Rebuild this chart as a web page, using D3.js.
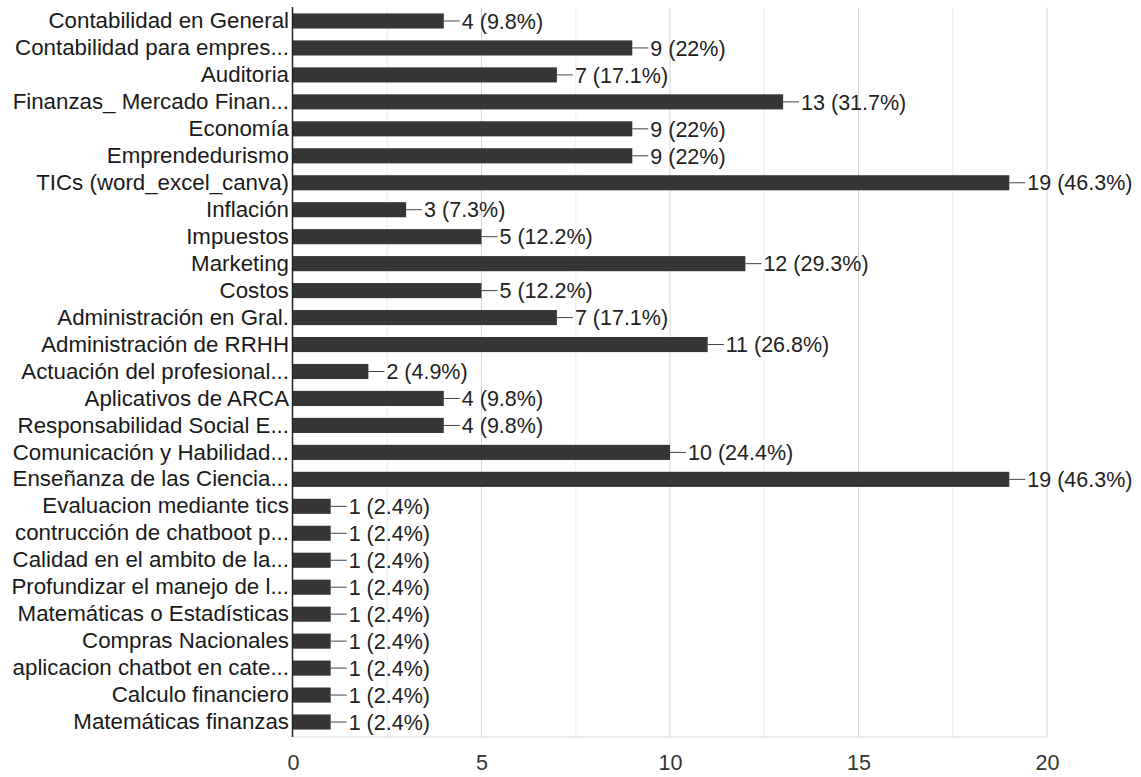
<!DOCTYPE html>
<html>
<head>
<meta charset="utf-8">
<script src="https://cdn.jsdelivr.net/npm/d3@7"></script>
<style>
  html, body { margin: 0; padding: 0; background: #fff; }
  svg { display: block; font-family: "Liberation Sans", Arial, sans-serif; }
</style>
</head>
<body>
<svg id="chart" width="1141" height="777"></svg>
<script>
const categories = [
  "Contabilidad en General",
  "Contabilidad para empres...",
  "Auditoria",
  "Finanzas_ Mercado Finan...",
  "Economía",
  "Emprendedurismo",
  "TICs (word_excel_canva)",
  "Inflación",
  "Impuestos",
  "Marketing",
  "Costos",
  "Administración en Gral.",
  "Administración de RRHH",
  "Actuación del profesional...",
  "Aplicativos de ARCA",
  "Responsabilidad Social E...",
  "Comunicación y Habilidad...",
  "Enseñanza de las Ciencia...",
  "Evaluacion mediante tics",
  "contrucción de chatboot p...",
  "Calidad en el ambito de la...",
  "Profundizar el manejo de l...",
  "Matemáticas o Estadísticas",
  "Compras Nacionales",
  "aplicacion chatbot en cate...",
  "Calculo financiero",
  "Matemáticas finanzas"
];
const counts = [4, 9, 7, 13, 9, 9, 19, 3, 5, 12, 5, 7, 11, 2, 4, 4, 10, 19, 1, 1, 1, 1, 1, 1, 1, 1, 1];
const percents = ["9.8%", "22%", "17.1%", "31.7%", "22%", "22%", "46.3%", "7.3%", "12.2%", "29.3%", "12.2%", "17.1%", "26.8%", "4.9%", "9.8%", "9.8%", "24.4%", "46.3%", "2.4%", "2.4%", "2.4%", "2.4%", "2.4%", "2.4%", "2.4%", "2.4%", "2.4%"];
const majorTicks = [0, 5, 10, 15, 20];
const minorTicks = [2.5, 7.5, 12.5, 17.5];

(function () {
const data = categories.map((c, i) => ({ cat: c, n: counts[i], pct: percents[i] }));

const svg = d3.select("#chart");
const x = d3.scaleLinear().domain([0, 20]).range([293, 1047]);
const y = d3.scaleBand().domain(categories).range([7.5, 735.5]).paddingInner(0.44).paddingOuter(0.22);

const plotTop = 7, plotBottom = 737;

svg.append("g").selectAll("line").data(minorTicks).join("line")
  .attr("x1", d => x(d)).attr("x2", d => x(d))
  .attr("y1", plotTop).attr("y2", plotBottom)
  .attr("stroke", "#ececec").attr("stroke-width", 1);

svg.append("g").selectAll("line").data(majorTicks.slice(1)).join("line")
  .attr("x1", d => x(d)).attr("x2", d => x(d))
  .attr("y1", plotTop).attr("y2", plotBottom)
  .attr("stroke", "#d6d6d6").attr("stroke-width", 1);

svg.append("line")
  .attr("x1", x(0)).attr("x2", x(20))
  .attr("y1", plotBottom).attr("y2", plotBottom)
  .attr("stroke", "#d6d6d6");

svg.append("g").selectAll("rect").data(data).join("rect")
  .attr("x", x(0))
  .attr("y", d => y(d.cat))
  .attr("width", d => x(d.n) - x(0))
  .attr("height", y.bandwidth())
  .attr("fill", "#363636");

svg.append("line")
  .attr("x1", x(0) - 0.5).attr("x2", x(0) - 0.5)
  .attr("y1", plotTop).attr("y2", plotBottom)
  .attr("stroke", "#222").attr("stroke-width", 1.5);

const vl = svg.append("g");
vl.selectAll("line").data(data).join("line")
  .attr("x1", d => x(d.n)).attr("x2", d => x(d.n) + 16)
  .attr("y1", d => y(d.cat) + y.bandwidth() / 2)
  .attr("y2", d => y(d.cat) + y.bandwidth() / 2)
  .attr("stroke", "#444").attr("stroke-width", 1);
vl.selectAll("text").data(data).join("text")
  .attr("x", d => x(d.n) + 18)
  .attr("y", d => y(d.cat) + y.bandwidth() / 2)
  .attr("dy", "0.36em")
  .attr("font-size", 21.5)
  .attr("fill", "#222")
  .text(d => `${d.n} (${d.pct})`);

const yAxis = d3.axisLeft(y).tickSize(0).tickPadding(3);
const ya = svg.append("g").attr("transform", `translate(${x(0) - 1},0)`).call(yAxis);
ya.select(".domain").remove();
ya.selectAll("text").attr("font-size", 22.3).attr("fill", "#1a1a1a")
  .attr("font-family", "\"Liberation Sans\", Arial, sans-serif");

const xAxis = d3.axisBottom(x).tickValues(majorTicks).tickSize(0).tickPadding(18).tickFormat(d3.format("d"));
const xa = svg.append("g").attr("transform", `translate(0,${plotBottom})`).call(xAxis);
xa.select(".domain").remove();
xa.selectAll("text").attr("font-size", 21.5).attr("fill", "#333")
  .attr("font-family", "\"Liberation Sans\", Arial, sans-serif");
})();
</script>
</body>
</html>
